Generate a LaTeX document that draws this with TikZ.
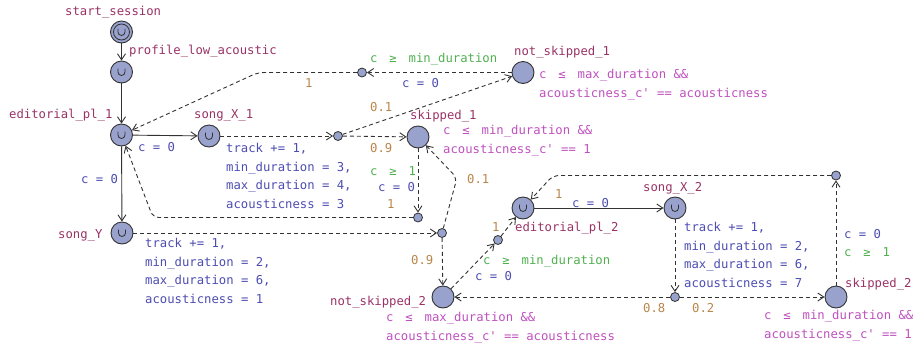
\documentclass[tikz,border=0pt]{standalone}
\usepackage{fontspec}
\setmonofont{DejaVu Sans Mono}
\usetikzlibrary{arrows.meta}
\definecolor{locname}{RGB}{153,51,102}
\definecolor{invc}{RGB}{190,80,190}
\definecolor{guardc}{RGB}{80,176,80}
\definecolor{assignc}{RGB}{76,76,178}
\definecolor{probc}{RGB}{184,134,75}
\definecolor{locfill}{RGB}{152,162,204}
\definecolor{edgegray}{RGB}{50,50,50}
\newcommand{\myge}{\ \kern4.5bp≥\kern4.5bp\ }
\newcommand{\myle}{\ \kern4.5bp≤\kern4.5bp\ }
\begin{document}
\begin{tikzpicture}[x=1bp,y=-1bp,
  every node/.style={font=\ttfamily\fontsize{12.3}{19}\selectfont},
  loc/.style={circle, draw=edgegray, fill=locfill, line width=0.9bp, minimum size=22bp, inner sep=0},
  urg/.style={loc, path picture={\draw[edgegray, line width=0.8bp]
      ([xshift=-3.5bp,yshift=3.5bp]path picture bounding box.center) -- ++(0,-3.5bp)
      arc[start angle=180,end angle=360,radius=3.5bp] -- ++(0,3.5bp);}},
  initloc/.style={loc, path picture={\draw[edgegray, line width=0.8bp]
      (path picture bounding box.center) circle[radius=8bp];
      \draw[edgegray, line width=0.8bp]
      ([xshift=-3.5bp,yshift=3.5bp]path picture bounding box.center) -- ++(0,-3.5bp)
      arc[start angle=180,end angle=360,radius=3.5bp] -- ++(0,3.5bp);}},
  br/.style={circle, draw=edgegray, fill=locfill, line width=0.8bp, minimum size=9bp, inner sep=0},
  ed/.style={draw=edgegray, line width=0.9bp, -{Straight Barb[length=6bp,width=8bp]}},
  dsh/.style={ed, dash pattern=on 4bp off 3bp},
  lname/.style={text=locname, inner sep=0, anchor=base west},
  asg/.style={text=assignc, inner sep=0, anchor=base west},
  grd/.style={text=guardc, inner sep=0, anchor=base west},
  prb/.style={text=probc, inner sep=0, anchor=base west},
  asgm/.style={text=assignc, inner sep=0, anchor=north west, align=left},
  inv/.style={text=invc, inner sep=0, anchor=north west, align=left}
]
\useasboundingbox (0,0) rectangle (915,346);

% locations
\node[initloc] (s0) at (121.5,32) {};
\node[urg] (p0) at (121.5,72) {};
\node[urg] (e1) at (121.5,135) {};
\node[urg] (sx1) at (209,136) {};
\node[loc] (sk1) at (418,137) {};
\node[loc] (ns1) at (523,72.5) {};
\node[urg] (sy) at (122,233) {};
\node[loc] (ns2) at (443,297) {};
\node[urg] (e2) at (523,208) {};
\node[urg] (sx2) at (675,208) {};
\node[loc] (sk2) at (836,297) {};

% branch points
\node[br] (b1) at (338,136) {};
\node[br] (b2) at (362,72.5) {};
\node[br] (b3) at (418,217.5) {};
\node[br] (b4) at (442,233) {};
\node[br] (b5) at (498,240) {};
\node[br] (b6) at (675,297) {};
\node[br] (b7) at (836,175.5) {};

% edges
\draw[ed] (s0) -- (p0);
\draw[ed] (p0) -- (e1);
\draw[ed] (e1) -- (sx1);
\draw[ed] (e1) -- (sy);
\draw[dsh] (sx1) -- (b1);
\draw[dsh] (b1) -- (sk1);
\draw[dsh] (b1) -- (ns1);
\draw[dsh] (ns1) -- (b2);
\draw[dsh, rounded corners=6bp] (b2) -- (258,72.5) -- (e1);
\draw[dsh] (sk1) -- (b3);
\draw[dsh, rounded corners=6bp] (b3) -- (153,217.5) -- (e1);
\draw[dsh] (sy) -- (b4);
\draw[dsh, rounded corners=6bp] (b4) -- (457,178) -- (sk1);
\draw[dsh] (b4) -- (ns2);
\draw[dsh] (ns2) -- (b5);
\draw[dsh] (b5) -- (e2);
\draw[ed] (e2) -- (sx2);
\draw[dsh] (sx2) -- (b6);
\draw[dsh] (b6) -- (ns2);
\draw[dsh] (b6) -- (sk2);
\draw[dsh] (sk2) -- (b7);
\draw[dsh, rounded corners=6bp] (b7) -- (553,175.5) -- (e2);

% location names
\node[lname] (n1) at (65,15) {start\_session};
\node[lname] (n2) at (129,54) {profile\_low\_acoustic};
\node[lname] (n3) at (9,118) {editorial\_pl\_1};
\node[lname] (n4) at (194,118) {song\_X\_1};
\node[lname] (n5) at (410,119) {skipped\_1};
\node[lname] (n6) at (514,55) {not\_skipped\_1};
\node[lname] (n7) at (58,238) {song\_Y};
\node[lname] (n8) at (330,305) {not\_skipped\_2};
\node[lname] (n9) at (515,231) {editorial\_pl\_2};
\node[lname] (n10) at (643,191) {song\_X\_2};
\node[lname] (n11) at (845,287) {skipped\_2};

% invariants
\node[inv] (i1) at (539,68.7) {c\myle max\_duration \&\&\\acousticness\_c' == acousticness};
\node[inv] (i2) at (443,124.7) {c\myle min\_duration \&\&\\acousticness\_c' == 1};
\node[inv] (i3) at (386,311.7) {c\myle max\_duration \&\&\\acousticness\_c' == acousticness};
\node[inv] (i4) at (764,309.7) {c\myle min\_duration \&\&\\acousticness\_c' == 1};

% assignments
\node[asg] (a1) at (138,151) {c = 0};
\node[asg] (a2) at (81,183) {c = 0};
\node[asgm] (a3) at (226,142.6) {track += 1,\\min\_duration = 3,\\max\_duration = 4,\\acousticness = 3};
\node[asg] (a4) at (402,87) {c = 0};
\node[asg] (a5) at (378,191) {c = 0};
\node[asgm] (a6) at (145,237.6) {track += 1,\\min\_duration = 2,\\max\_duration = 6,\\acousticness = 1};
\node[asg] (a7) at (572,207) {c = 0};
\node[asg] (a8) at (475,280) {c = 0};
\node[asgm] (a9) at (684,221.6) {track += 1,\\min\_duration = 2,\\max\_duration = 6,\\acousticness = 7};
\node[asg] (a10) at (844,238) {c = 0};

% guards
\node[grd] (g1) at (370,62) {c\myge min\_duration};
\node[grd] (g2) at (370,175) {c\myge 1};
\node[grd] (g3) at (483,264) {c\myge min\_duration};
\node[grd] (g4) at (844,256) {c\myge 1};

% probabilities
\node[prb] (w1) at (305,87) {1};
\node[prb] (w2) at (370,111) {0.1};
\node[prb] (w3) at (370,152) {0.9};
\node[prb] (w4) at (387,208) {1};
\node[prb] (w5) at (467,183) {0.1};
\node[prb] (w6) at (411,264) {0.9};
\node[prb] (w7) at (555,198) {1};
\node[prb] (w8) at (492,231) {1};
\node[prb] (w9) at (643,312) {0.8};
\node[prb] (w10) at (692,312) {0.2};
\end{tikzpicture}
\end{document}
